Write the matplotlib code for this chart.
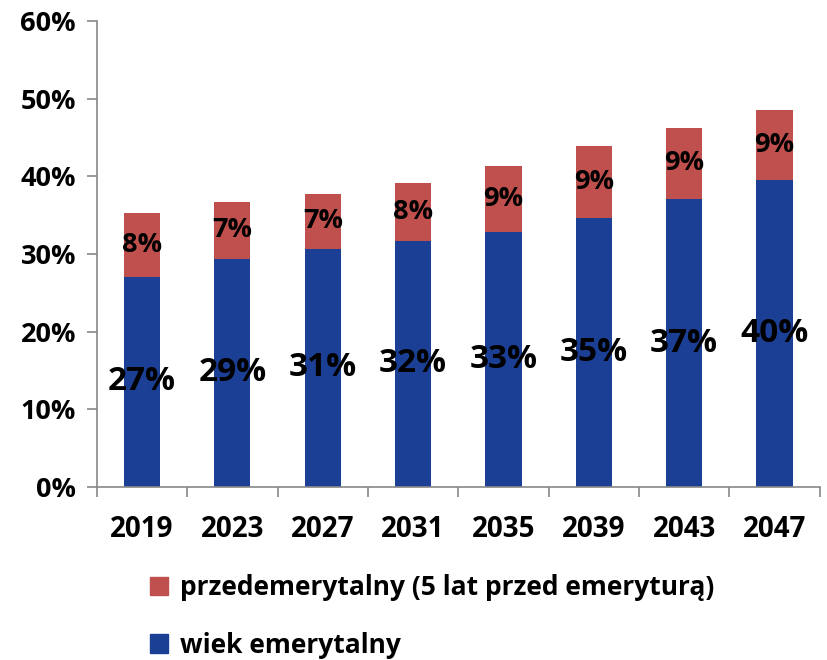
import numpy as np
import matplotlib.pyplot as plt
from matplotlib.patches import Patch

years = ['2019', '2023', '2027', '2031', '2035', '2039', '2043', '2047']
retired = [27.1, 29.4, 30.7, 31.7, 32.8, 34.7, 37.1, 39.6]
pre_retired = [8.2, 7.3, 7.0, 7.5, 8.6, 9.2, 9.2, 8.9]
retired_labels = ['27%', '29%', '31%', '32%', '33%', '35%', '37%', '40%']
pre_labels = ['8%', '7%', '7%', '8%', '9%', '9%', '9%', '9%']

blue = '#1B3F94'
red = '#C0504D'
plt.rcParams['font.family'] = ['Open Sans', 'DejaVu Sans']
plt.rcParams['font.weight'] = 'bold'

fig = plt.figure(figsize=(8.28, 6.6), dpi=100)
ax = fig.add_axes([0.117, 0.262, 0.873, 0.706])

x = np.arange(len(years))
ax.bar(x, retired, width=0.4, color=blue)
ax.bar(x, pre_retired, width=0.4, bottom=retired, color=red)

for i in range(len(years)):
    ax.text(x[i], retired[i] / 2, retired_labels[i], ha='center', va='center',
            fontsize=24, fontweight='bold', color='black')
    ax.text(x[i], retired[i] + pre_retired[i] / 2, pre_labels[i], ha='center', va='center',
            fontsize=19.5, fontweight='bold', color='black')

ax.set_xlim(-0.5, len(years) - 0.5)
ax.set_ylim(0, 60)
ax.set_yticks(range(0, 61, 10))
ax.set_yticklabels([f'{v}%' for v in range(0, 61, 10)], fontsize=19.5, fontweight='bold')
ax.set_xticks(x)
ax.set_xticklabels(years, fontsize=20, fontweight='bold')
ax.set_xticks(np.arange(-0.5, len(years), 1), minor=True)
ax.tick_params(axis='x', which='major', length=0, pad=20)
ax.tick_params(axis='x', which='minor', length=7, color='#888888', width=1.2, direction='out')
ax.tick_params(axis='y', length=7, color='#888888', width=1.2, direction='out', pad=8)

for side in ['top', 'right']:
    ax.spines[side].set_visible(False)
for side in ['left', 'bottom']:
    ax.spines[side].set_color('#888888')
    ax.spines[side].set_linewidth(1.2)

handles = [Patch(color=red, label='przedemerytalny (5 lat przed emeryturą)'),
           Patch(color=blue, label='wiek emerytalny')]
fig.legend(handles=handles, loc='upper left', bbox_to_anchor=(0.152, 0.166),
           frameon=False, prop={'weight': 'bold', 'size': 19},
           handlelength=0.7, handleheight=0.7, handletextpad=0.45, labelspacing=1.15)

fig.savefig('out.png', dpi=100)
